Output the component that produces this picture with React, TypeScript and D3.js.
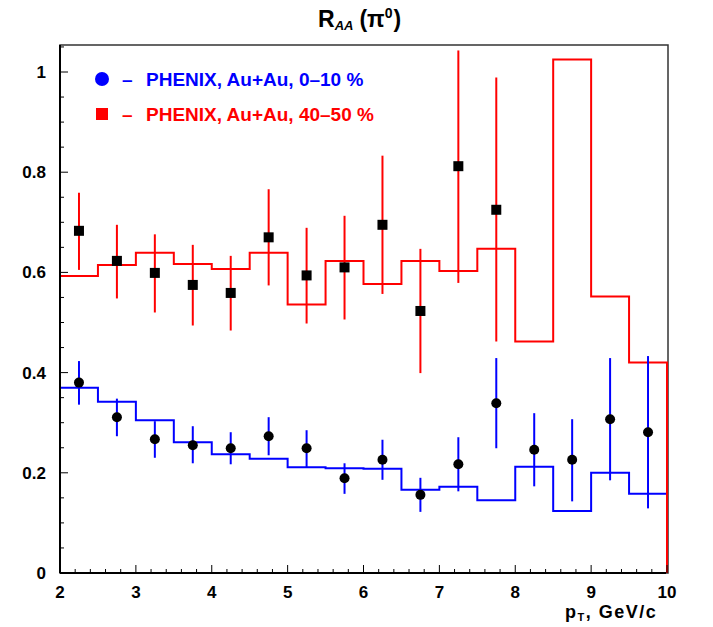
import React from "react";
import * as d3 from "d3";

// ---- data ----
const binEdges = [2, 2.5, 3, 3.5, 4, 4.5, 5, 5.5, 6, 6.5, 7, 7.5, 8, 8.5, 9, 9.5, 10];
const redHist = [0.593, 0.615, 0.639, 0.617, 0.607, 0.639, 0.536, 0.623, 0.577, 0.623, 0.603, 0.647, 0.462, 1.025, 0.552, 0.42];
const blueHist = [0.37, 0.342, 0.305, 0.261, 0.237, 0.228, 0.211, 0.209, 0.208, 0.166, 0.172, 0.145, 0.212, 0.124, 0.2, 0.158];

const redX = [2.25, 2.75, 3.25, 3.75, 4.25, 4.75, 5.25, 5.75, 6.25, 6.75, 7.25, 7.75];
const redY = [0.683, 0.623, 0.599, 0.575, 0.559, 0.67, 0.594, 0.61, 0.695, 0.523, 0.812, 0.725];
const redHi = [0.759, 0.695, 0.676, 0.655, 0.633, 0.766, 0.689, 0.713, 0.833, 0.647, 1.043, 0.989];
const redLo = [0.605, 0.548, 0.52, 0.494, 0.484, 0.574, 0.498, 0.506, 0.557, 0.399, 0.579, 0.462];

const blueX = [2.25, 2.75, 3.25, 3.75, 4.25, 4.75, 5.25, 5.75, 6.25, 6.75, 7.25, 7.75, 8.25, 8.75, 9.25, 9.75];
const blueY = [0.38, 0.311, 0.267, 0.255, 0.249, 0.273, 0.249, 0.189, 0.226, 0.156, 0.217, 0.339, 0.246, 0.226, 0.307, 0.281];
const blueHi = [0.423, 0.348, 0.303, 0.293, 0.281, 0.311, 0.285, 0.219, 0.266, 0.19, 0.271, 0.429, 0.319, 0.307, 0.429, 0.433];
const blueLo = [0.336, 0.273, 0.23, 0.219, 0.217, 0.235, 0.211, 0.158, 0.186, 0.122, 0.163, 0.249, 0.173, 0.143, 0.185, 0.129];

const xTickLabels = ["2", "3", "4", "5", "6", "7", "8", "9", "10"];
const yTickLabels = ["0", "0.2", "0.4", "0.6", "0.8", "1"];

const legendLabels = ["PHENIX, Au+Au, 0–10 %", "PHENIX, Au+Au, 40–50 %"];

// ---- layout ----
const W = 713, H = 627;
const L = 60, R = 668, T = 45, B = 573;
const FONT = "'Liberation Sans', Arial, sans-serif";

export default function App() {
  const x = d3.scaleLinear().domain([2, 10]).range([L, R - 1]);
  const y = d3.scaleLinear().domain([0, 1]).range([B, B - 501]);

  const stepPath = (vals: number[]) => {
    const p = d3.path();
    p.moveTo(x(binEdges[0]), y(0));
    vals.forEach((v, i) => {
      p.lineTo(x(binEdges[i]), y(v));
      p.lineTo(x(binEdges[i + 1]), y(v));
    });
    p.lineTo(x(binEdges[binEdges.length - 1]), y(0));
    return p.toString();
  };

  const xMinor = d3.range(2, 10.001, 0.2);
  const xMajor = xTickLabels.map(Number);
  const yMinor = d3.range(0, 1.051, 0.05);
  const yMajor = yTickLabels.map(Number);

  return (
    <div style={{ position: "absolute", left: 0, top: 0 }}>
      <svg width={W} height={H} style={{ display: "block", background: "#fff" }}>
        {/* frame */}
        <rect x={L} y={T} width={R - L} height={B - T} fill="none" stroke="#333" strokeWidth={1.5} />

        {/* histograms */}
        <path d={stepPath(blueHist)} fill="none" stroke="#0000ff" strokeWidth={2} />
        <path d={stepPath(redHist)} fill="none" stroke="#ff0000" strokeWidth={2} />

        {/* red error bars + squares */}
        {redX.map((v, i) => (
          <line key={"re" + i} x1={x(v)} x2={x(v)} y1={y(redHi[i])} y2={y(redLo[i])} stroke="#ff0000" strokeWidth={2} />
        ))}
        {redX.map((v, i) => (
          <rect key={"rs" + i} x={x(v) - 5} y={y(redY[i]) - 5} width={10} height={10} fill="#000" />
        ))}

        {/* blue error bars + circles */}
        {blueX.map((v, i) => (
          <line key={"be" + i} x1={x(v)} x2={x(v)} y1={y(blueHi[i])} y2={y(blueLo[i])} stroke="#0000ff" strokeWidth={2} />
        ))}
        {blueX.map((v, i) => (
          <circle key={"bc" + i} cx={x(v)} cy={y(blueY[i])} r={5} fill="#000" />
        ))}

        {/* axes lines */}
        <line x1={L} x2={L} y1={T} y2={B} stroke="#000" strokeWidth={2} />
        <line x1={L} x2={R - 2} y1={B} y2={B} stroke="#000" strokeWidth={2} />

        {/* x ticks */}
        {xMinor.map((v, i) => {
          const major = xMajor.some((m) => Math.abs(m - v) < 1e-6);
          return <line key={"xt" + i} x1={x(v)} x2={x(v)} y1={B} y2={B - (major ? 8 : 4)} stroke="#000" strokeWidth={1} />;
        })}
        {xMajor.map((v, i) => (
          <text key={"xl" + i} x={x(v)} y={598} textAnchor="middle" fontFamily={FONT} fontWeight="bold" fontSize={17}>
            {xTickLabels[i]}
          </text>
        ))}

        {/* y ticks */}
        {yMinor.map((v, i) => {
          const major = yMajor.some((m) => Math.abs(m - v) < 1e-6);
          return <line key={"yt" + i} x1={L} x2={L + (major ? 8 : 4)} y1={y(v)} y2={y(v)} stroke="#000" strokeWidth={1} />;
        })}
        {yMajor.map((v, i) => (
          <text key={"yl" + i} x={46} y={y(v) + 6} textAnchor="end" fontFamily={FONT} fontWeight="bold" fontSize={17}>
            {yTickLabels[i]}
          </text>
        ))}

        {/* title */}
        <text x={318} y={27} fontFamily={FONT} fontWeight="bold" fontSize={23}>
          R
          <tspan fontSize={13} fontStyle="italic" dy={3}>AA</tspan>
          <tspan dy={-3} dx={6}>(π</tspan>
          <tspan fontSize={14} dy={-9}>0</tspan>
          <tspan dy={9} dx={1}>)</tspan>
        </text>

        {/* x axis title */}
        <text x={565} y={618} fontFamily={FONT} fontWeight="bold" fontSize={18} letterSpacing={1.5}>
          p
          <tspan fontSize={11} dy={3}>T</tspan>
          <tspan dy={-3}>, GeV/c</tspan>
        </text>

        {/* legend */}
        <circle cx={102} cy={79} r={7} fill="#0000ff" />
        <text x={122} y={86} fontFamily={FONT} fontWeight="bold" fontSize={19} fill="#0000ff">–</text>
        <text x={146} y={86} fontFamily={FONT} fontWeight="bold" fontSize={19} fill="#0000ff">
          {legendLabels[0]}
        </text>
        <rect x={96} y={108} width={12} height={12} fill="#ff0000" />
        <text x={122} y={121} fontFamily={FONT} fontWeight="bold" fontSize={19} fill="#ff0000">–</text>
        <text x={146} y={121} fontFamily={FONT} fontWeight="bold" fontSize={19} fill="#ff0000">
          {legendLabels[1]}
        </text>
      </svg>
    </div>
  );
}
